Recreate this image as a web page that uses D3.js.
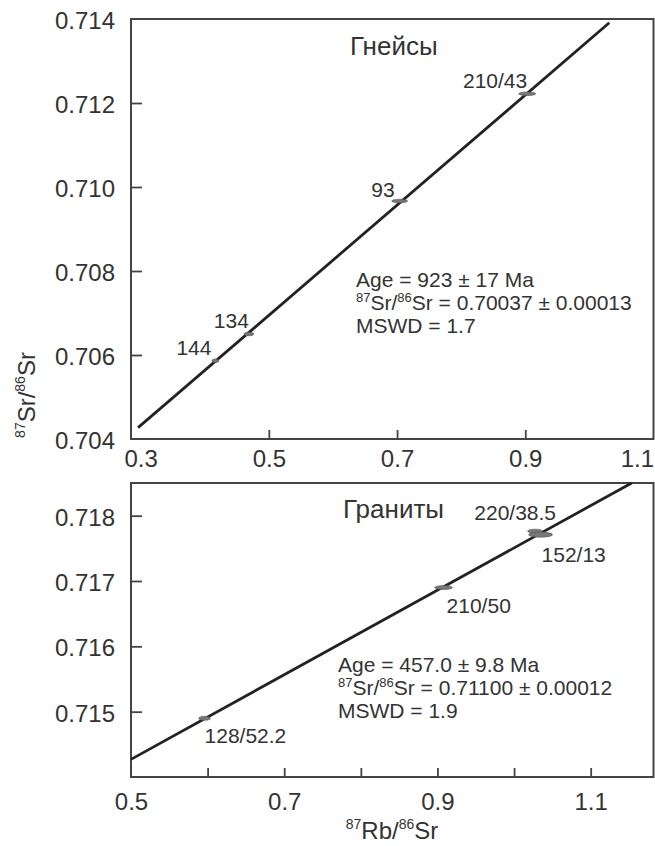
<!DOCTYPE html>
<html>
<head>
<meta charset="utf-8">
<script src="https://cdn.jsdelivr.net/npm/d3@7"></script>
<style>
  body { margin: 0; background: #fff; }
  text { font-family: Arial, "Liberation Sans", sans-serif; fill: #333; }
</style>
</head>
<body>
<script>
// gneisses (top panel)
var gneissLabels = ["144", "134", "93", "210/43"];
var gneissX = [0.4167, 0.4688, 0.704, 0.903];
var gneissY = [0.705864, 0.7065, 0.709667, 0.71222];
var gneissSx = [0.0055, 0.0078, 0.0125, 0.0133];
var gneissSy = [0.00004, 0.00004, 0.00004, 0.00004];
var gneissLine = [[0.296, 0.70427], [1.031, 0.71391]];
var gneissXTicks = [0.3, 0.5, 0.7, 0.9, 1.1];
var gneissYTicks = [0.704, 0.706, 0.708, 0.710, 0.712, 0.714];
var gneissStats = ["Age = 923 ± 17 Ma", "0.70037 ± 0.00013", "MSWD = 1.7"];

// granites (bottom panel)
var graniteLabels = ["128/52.2", "210/50", "220/38.5", "152/13"];
var graniteX = [0.596, 0.908, 1.0274, 1.0346];
var graniteY = [0.714899, 0.7169, 0.717763, 0.717709];
var graniteSx = [0.0078, 0.0117, 0.0098, 0.0157];
var graniteSy = [0.00003, 0.00003, 0.00003, 0.00004];
var graniteLine = [[0.5, 0.71427], [1.1535, 0.7185]];
var graniteXTicks = [0.5, 0.6, 0.7, 0.8, 0.9, 1.0, 1.1];
var graniteYTicks = [0.715, 0.716, 0.717, 0.718];
var graniteStats = ["Age = 457.0 ± 9.8 Ma", "0.71100 ± 0.00012", "MSWD = 1.9"];

var svg = d3.select("body")
    .append("svg")
    .attr("width", 655)
    .attr("height", 846);

var left = 131, right = 653.5;

function panel(o) {
    var x = d3.scaleLinear().domain(o.xDomain).range([left, right]);
    var y = d3.scaleLinear().domain(o.yDomain).range([o.bottom, o.top]);
    var g = svg.append("g");

    // y axis, ticks pointing inwards
    var ya = g.append("g")
        .attr("transform", "translate(" + left + ",0)")
        .call(d3.axisLeft(y).tickValues(o.yTicks).tickSizeInner(-11).tickSizeOuter(0)
            .tickPadding(16).tickFormat(d3.format(".3f")));
    ya.select(".domain").remove();
    ya.selectAll(".tick text").attr("font-size", 24).attr("dy", "0.4em")
        .attr("font-family", null);
    ya.selectAll(".tick line").attr("stroke", "#444").attr("stroke-width", 1.8)
        .filter(function (d) { return d <= o.yDomain[0] || d >= o.yDomain[1]; }).remove();

    // x axis
    var xa = g.append("g")
        .attr("transform", "translate(0," + o.bottom + ")")
        .call(d3.axisBottom(x).tickValues(o.xTicks).tickSizeInner(-9).tickSizeOuter(0)
            .tickPadding(o.xPad).tickFormat(function (d) {
                return o.xLabels.indexOf(d) >= 0 ? d3.format(".1f")(d) : "";
            }));
    xa.select(".domain").remove();
    xa.selectAll(".tick text").attr("font-size", 24).attr("font-family", null);
    xa.selectAll(".tick line").attr("stroke", "#444").attr("stroke-width", 1.8)
        .filter(function (d) { return x(d) <= left + 1 || x(d) >= right - 1 || o.noTick.indexOf(d) >= 0; }).remove();
    xa.selectAll(".tick text").filter(function (d) { return d === 1.1; })
        .attr("text-anchor", o.lastEnd ? "end" : "middle");

    // frame
    g.append("rect")
        .attr("x", left).attr("y", o.top)
        .attr("width", right - left).attr("height", o.bottom - o.top)
        .attr("fill", "none").attr("stroke", "#444").attr("stroke-width", 2);

    // isochron
    g.append("path")
        .attr("d", d3.line().x(function (d) { return x(d[0]); }).y(function (d) { return y(d[1]); })(o.line))
        .attr("stroke", "#222").attr("stroke-width", 2.8).attr("fill", "none");

    // error ellipses
    g.selectAll("ellipse.pt")
        .data(o.xs)
        .enter().append("ellipse")
        .attr("cx", function (d) { return x(d); })
        .attr("cy", function (d, i) { return y(o.ys[i]); })
        .attr("rx", function (d, i) { return x(d + o.sx[i]) - x(d); })
        .attr("ry", function (d, i) { return Math.max(1.8, y(o.ys[i]) - y(o.ys[i] + o.sy[i])); })
        .attr("fill", "#777")
        .attr("stroke", "#555")
        .attr("stroke-width", 0.6);

    // point labels
    g.selectAll("text.lbl")
        .data(o.labels)
        .enter().append("text")
        .attr("class", "lbl")
        .attr("x", function (d, i) { return x(o.xs[i]) + o.lblDx[i]; })
        .attr("y", function (d, i) { return y(o.ys[i]) + o.lblDy[i]; })
        .attr("text-anchor", function (d, i) { return o.lblAnchor[i]; })
        .attr("font-size", 21)
        .text(function (d) { return d; });

    // rock name
    g.append("text")
        .attr("x", o.titleX).attr("y", o.titleY)
        .attr("font-size", 26)
        .text(o.title);

    // stats
    var st = g.append("g").attr("font-size", 21);
    st.append("text").attr("x", o.statX).attr("y", o.statY).text(o.stats[0]);
    var t2 = st.append("text").attr("x", o.statX).attr("y", o.statY + 23);
    t2.append("tspan").attr("font-size", 13).attr("dy", -8).text("87");
    t2.append("tspan").attr("dy", 8).text("Sr/");
    t2.append("tspan").attr("font-size", 13).attr("dy", -8).text("86");
    t2.append("tspan").attr("dy", 8).text("Sr = " + o.stats[1]);
    st.append("text").attr("x", o.statX).attr("y", o.statY + 46).text(o.stats[2]);
}

panel({
    xDomain: [0.285, 1.1], yDomain: [0.704, 0.714], top: 19, bottom: 439,
    xTicks: gneissXTicks, xLabels: gneissXTicks, noTick: [0.3, 1.1], xPad: 11, lastEnd: true,
    yTicks: gneissYTicks,
    xs: gneissX, ys: gneissY, sx: gneissSx, sy: gneissSy, line: gneissLine,
    labels: gneissLabels,
    lblDx: [-4, 0, -5, 0], lblDy: [-6, -6, -4, -6], lblAnchor: ["end", "end", "end", "end"],
    title: "Гнейсы", titleX: 350, titleY: 55,
    stats: gneissStats, statX: 356, statY: 287
});

panel({
    xDomain: [0.5, 1.182], yDomain: [0.714, 0.7185], top: 483, bottom: 777,
    xTicks: graniteXTicks, xLabels: [0.5, 0.7, 0.9, 1.1], noTick: [], xPad: 16, lastEnd: false,
    yTicks: graniteYTicks,
    xs: graniteX, ys: graniteY, sx: graniteSx, sy: graniteSy, line: graniteLine,
    labels: graniteLabels,
    lblDx: [0, 3, 21, 1], lblDy: [25, 25, -11, 27], lblAnchor: ["start", "start", "end", "start"],
    title: "Граниты", titleX: 343, titleY: 518,
    stats: graniteStats, statX: 338, statY: 672
});

// axis titles
var xt = svg.append("text")
    .attr("x", 392).attr("y", 839)
    .attr("text-anchor", "middle")
    .attr("font-size", 24);
xt.append("tspan").attr("font-size", 14).attr("dy", -10).text("87");
xt.append("tspan").attr("dy", 10).text("Rb/");
xt.append("tspan").attr("font-size", 14).attr("dy", -10).text("86");
xt.append("tspan").attr("dy", 10).text("Sr");

var yt = svg.append("text")
    .attr("transform", "translate(35,395) rotate(-90)")
    .attr("text-anchor", "middle")
    .attr("font-size", 24);
yt.append("tspan").attr("font-size", 14).attr("dy", -10).text("87");
yt.append("tspan").attr("dy", 10).text("Sr/");
yt.append("tspan").attr("font-size", 14).attr("dy", -10).text("86");
yt.append("tspan").attr("dy", 10).text("Sr");
</script>
</body>
</html>
